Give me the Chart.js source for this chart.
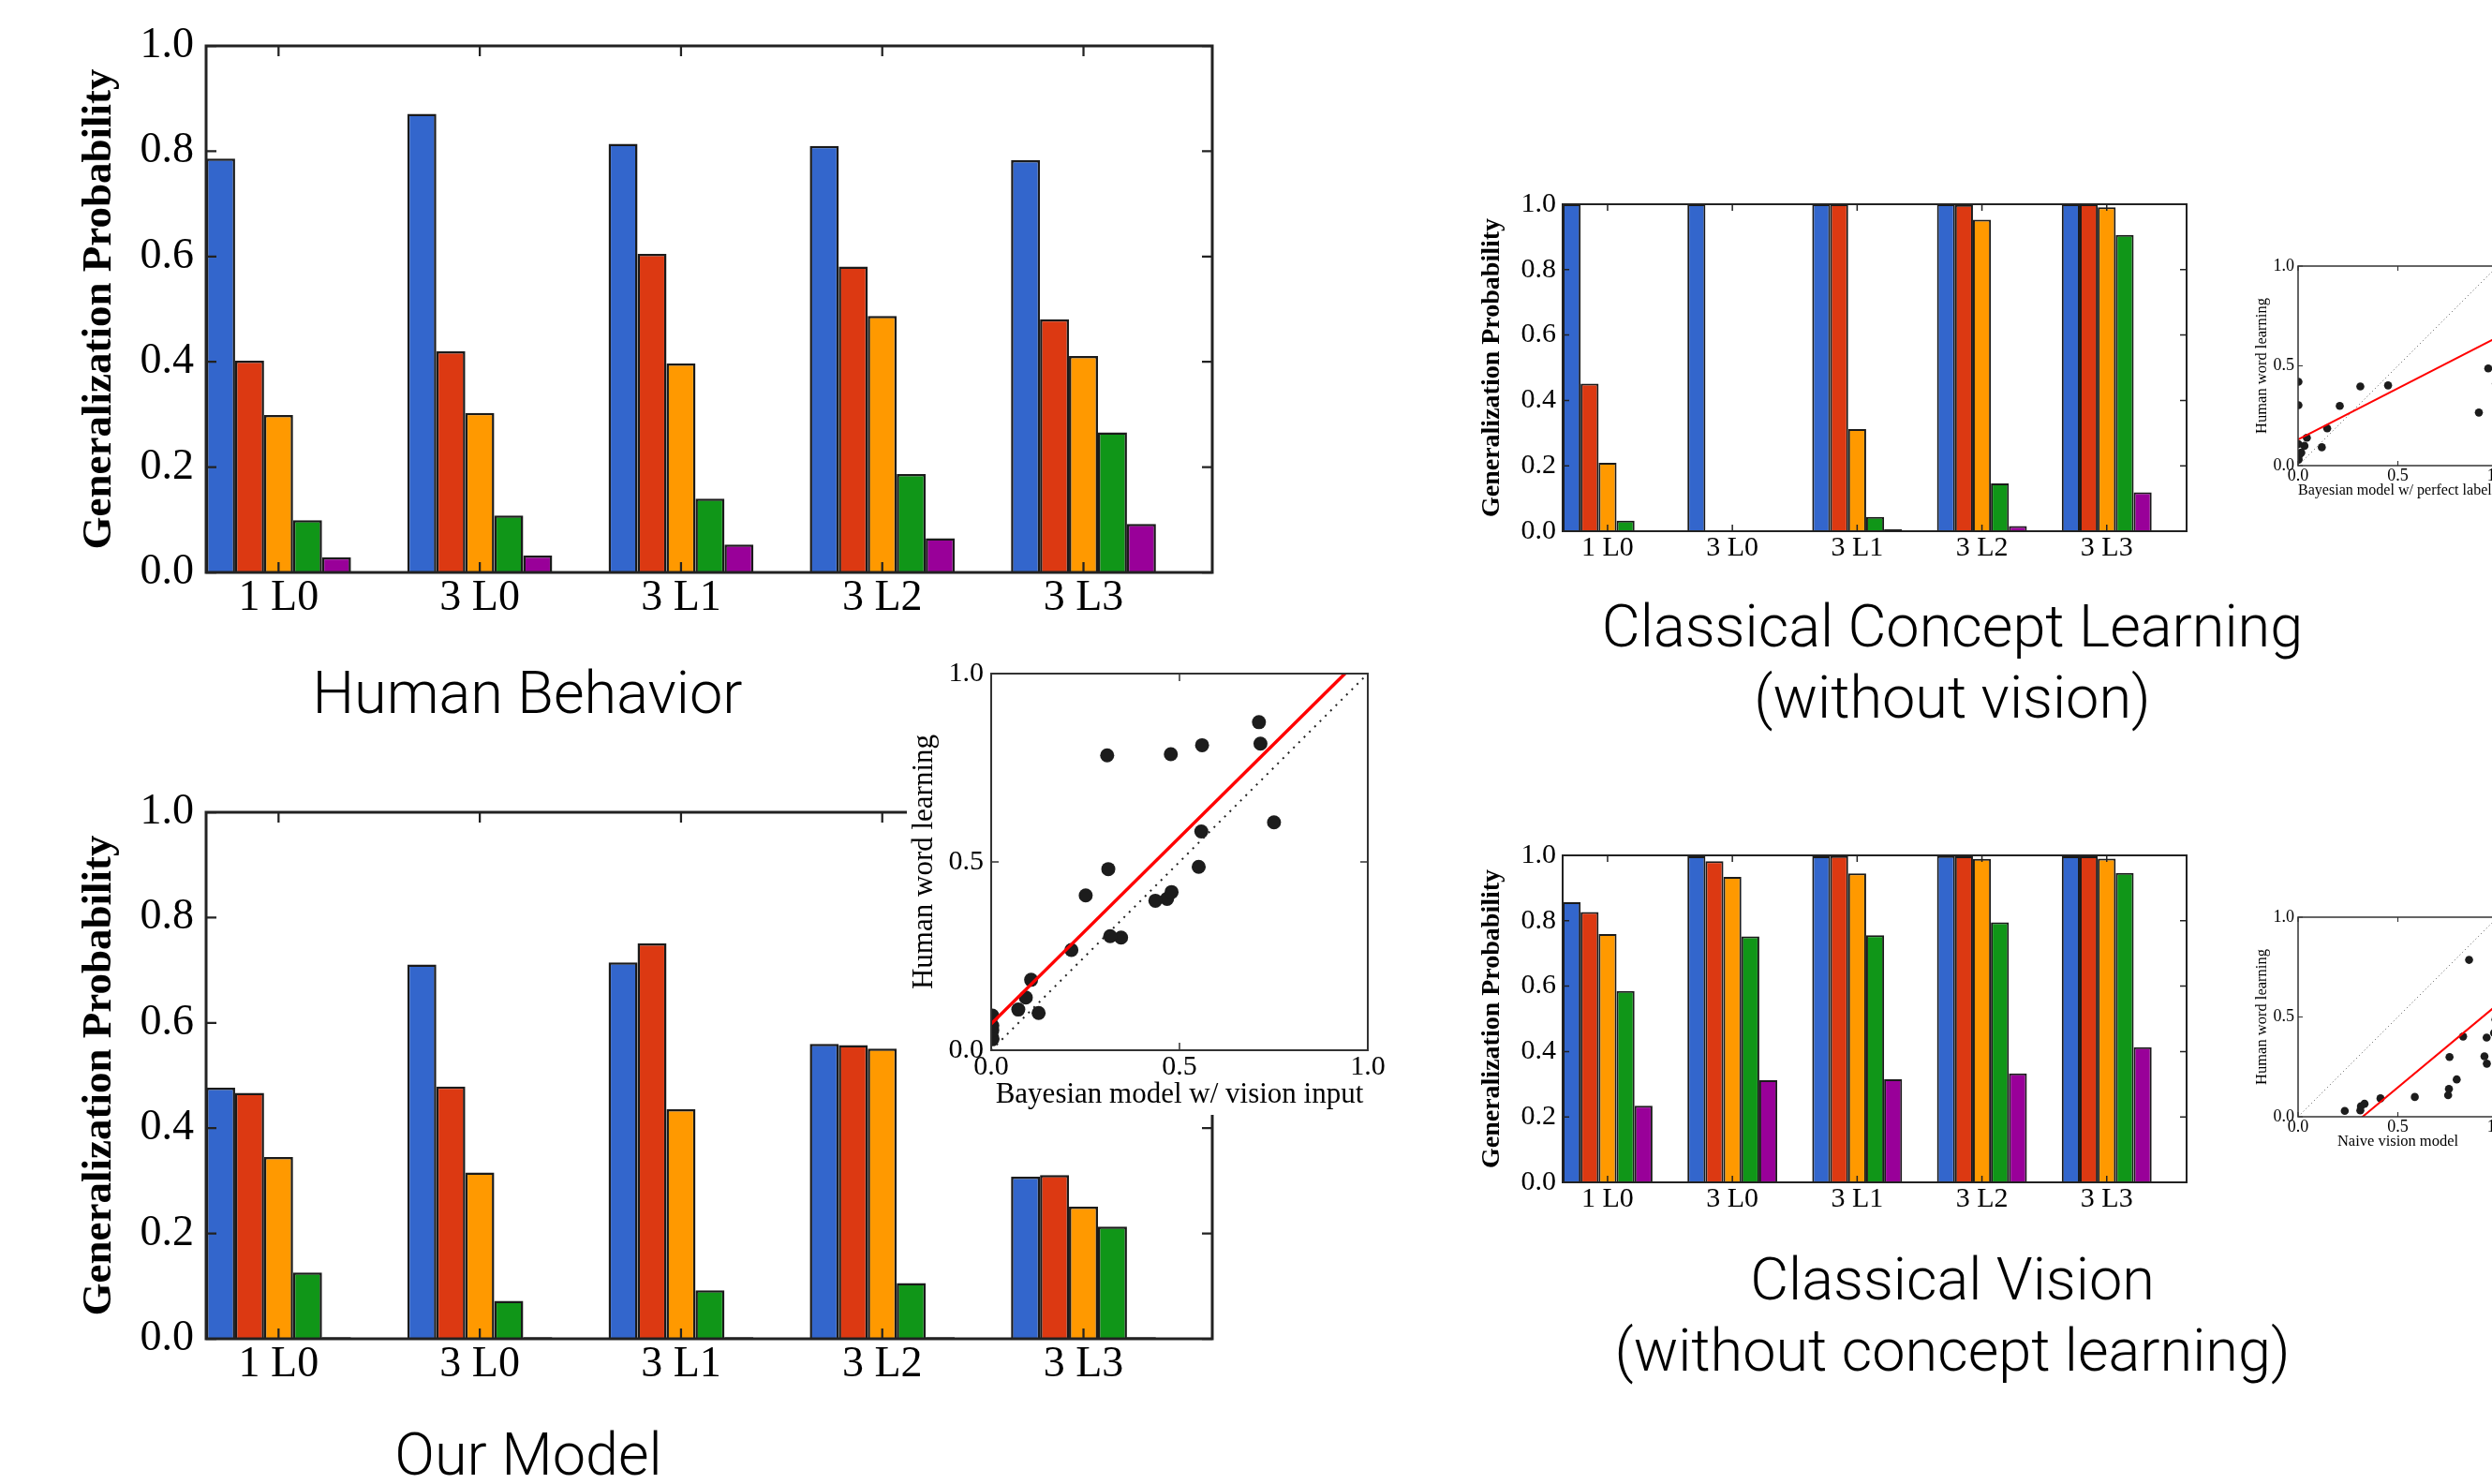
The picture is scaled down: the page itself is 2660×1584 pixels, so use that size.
<!DOCTYPE html>
<html>
<head>
<meta charset="utf-8">
<script src="https://cdn.jsdelivr.net/npm/chart.js@4.4.1/dist/chart.umd.min.js"></script>
<style>
  html, body { margin: 0; padding: 0; background: #fff; }
  #page { position: relative; width: 2660px; height: 1584px; overflow: hidden; background: #fff; }
  canvas { position: absolute; }
  .cap { position: absolute; font-family: Roboto, 'Liberation Sans', sans-serif; font-weight: 300;
         font-size: 63px; line-height: 76px; color: #000; text-align: center; white-space: nowrap;
         transform: translateX(-50%); }
</style>
</head>
<body>
<div id="page">
  <canvas id="humanBars" width="1260" height="680" style="left:60px;top:8px"></canvas>
  <canvas id="modelBars" width="1260" height="680" style="left:60px;top:826px"></canvas>
  <canvas id="conceptBars" width="800" height="420" style="left:1560px;top:190px"></canvas>
  <canvas id="visionBars" width="800" height="420" style="left:1560px;top:885px"></canvas>
  <canvas id="modelScatter" width="532" height="500" style="left:968px;top:690px;background:#fff"></canvas>
  <canvas id="conceptScatter" width="300" height="290" style="left:2390px;top:260px"></canvas>
  <canvas id="visionScatter" width="300" height="290" style="left:2390px;top:955px"></canvas>

  <div class="cap" style="left:563px;top:702px">Human Behavior</div>
  <div class="cap" style="left:564px;top:1515px">Our Model</div>
  <div class="cap" style="left:2084px;top:631px">Classical Concept Learning<br>(without vision)</div>
  <div class="cap" style="left:2084px;top:1328px">Classical Vision<br>(without concept learning)</div>
</div>
<script>
// categories (x tick labels) and one colour per bar in a group
const groups = ['1 L0', '3 L0', '3 L1', '3 L2', '3 L3'];
const seriesColors = ['#3366cc', '#dc3912', '#ff9900', '#109618', '#990099'];

// generalization probability, one row per group, one value per colour
const humanBehavior = [
  [0.786, 0.402, 0.299, 0.099, 0.029],
  [0.871, 0.420, 0.303, 0.108, 0.032],
  [0.814, 0.605, 0.397, 0.140, 0.053],
  [0.810, 0.581, 0.487, 0.187, 0.065],
  [0.783, 0.481, 0.411, 0.266, 0.092]
];
const ourModel = [
  [0.477, 0.467, 0.345, 0.126, 0.003],
  [0.711, 0.479, 0.316, 0.072, 0.003],
  [0.715, 0.751, 0.436, 0.092, 0.003],
  [0.560, 0.558, 0.551, 0.106, 0.003],
  [0.308, 0.311, 0.251, 0.213, 0.003]
];
const conceptModel = [
  [1.000, 0.451, 0.209, 0.032, 0.002],
  [1.000, 0.002, 0.002, 0.002, 0.002],
  [1.000, 1.000, 0.312, 0.044, 0.006],
  [1.000, 0.998, 0.953, 0.146, 0.016],
  [1.000, 1.000, 0.991, 0.906, 0.119]
];
const visionModel = [
  [0.857, 0.827, 0.759, 0.585, 0.234],
  [0.997, 0.982, 0.934, 0.752, 0.312],
  [0.997, 0.998, 0.945, 0.756, 0.315],
  [0.998, 0.997, 0.989, 0.795, 0.333],
  [0.997, 0.997, 0.990, 0.946, 0.413]
];

// red regression lines: [intercept, slope]
const modelFit = [0.07, 0.99];
const conceptFit = [0.131, 0.513];
const visionFit = [-0.269, 0.832];

const yTicks = [0, 0.2, 0.4, 0.6, 0.8, 1.0];
const serif = "'Liberation Serif', 'DejaVu Serif', serif";
const tickPos = 0.36;   // group centre within each unit of the x axis

// box round the plot with inward ticks on all four sides
const frame = {
  id: 'frame',
  afterDatasetsDraw(chart, args, o) {
    const { ctx, chartArea: a, scales: { x, y } } = chart;
    ctx.save();
    ctx.strokeStyle = o.color || '#222';
    ctx.lineWidth = o.width * 0.75;
    ctx.beginPath();
    x.ticks.forEach(t => {
      const p = x.getPixelForValue(t.value);
      ctx.moveTo(p, a.bottom); ctx.lineTo(p, a.bottom - o.tick);
      ctx.moveTo(p, a.top); ctx.lineTo(p, a.top + o.tick);
    });
    y.ticks.forEach(t => {
      const p = y.getPixelForValue(t.value);
      ctx.moveTo(a.left, p); ctx.lineTo(a.left + o.tick, p);
      ctx.moveTo(a.right, p); ctx.lineTo(a.right - o.tick, p);
    });
    ctx.stroke();
    ctx.lineWidth = o.width;
    ctx.strokeRect(a.left, a.top, a.right - a.left, a.bottom - a.top);
    ctx.restore();
  }
};

function barChart(id, values, c) {
  const el = document.getElementById(id);
  return new Chart(el, {
    type: 'bar',
    data: {
      datasets: seriesColors.map((col, k) => ({
        data: values.map((row, i) => ({ x: i + tickPos, y: row[k] })),
        backgroundColor: col,
        borderColor: '#1a1a1a',
        borderWidth: c.edge,
        categoryPercentage: 0.72,
        barPercentage: 1
      }))
    },
    options: {
      responsive: false, animation: false, devicePixelRatio: 1,
      layout: { padding: { left: 0, top: c.top, right: el.width - c.right, bottom: 0 } },
      plugins: { legend: { display: false }, tooltip: { enabled: false },
                 frame: { width: c.frame, tick: c.tick } },
      scales: {
        x: {
          type: 'linear', min: 0, max: 5, offset: false,
          grid: { display: false, drawTicks: false }, border: { display: false },
          afterBuildTicks: s => { s.ticks = groups.map((g, i) => ({ value: i + tickPos })); },
          afterFit: s => { s.height = el.height - c.bottom; },
          ticks: { callback: (v, i) => groups[i], color: '#000', padding: 0,
                   maxRotation: 0, autoSkip: false, font: { family: serif, size: c.font } }
        },
        y: {
          min: 0, max: 1,
          grid: { display: false, drawTicks: false }, border: { display: false },
          afterBuildTicks: s => { s.ticks = yTicks.map(v => ({ value: v })); },
          afterFit: s => { s.width = c.left; },
          ticks: { callback: v => v.toFixed(1), color: '#000', padding: c.ypad,
                   font: { family: serif, size: c.font } },
          title: { display: true, text: 'Generalization Probability', color: '#000',
                   padding: { top: c.titlePad, bottom: 0 },
                   font: { family: serif, size: c.titleSize, weight: 'bold' } }
        }
      }
    },
    plugins: [frame]
  });
}

function scatterChart(id, xs, ys, fit, xTitle, c) {
  const el = document.getElementById(id);
  const pts = [];
  xs.forEach((row, i) => row.forEach((v, k) => pts.push({ x: v, y: ys[i][k] })));
  const line = [0, 1].map(x => ({ x, y: fit[0] + fit[1] * x }));
  return new Chart(el, {
    type: 'scatter',
    data: {
      datasets: [
        { type: 'line', data: line, borderColor: '#ff0000', borderWidth: c.red,
          pointRadius: 0, fill: false },
        { type: 'line', data: [{ x: 0, y: 0 }, { x: 1, y: 1 }], borderColor: c.dotColor,
          borderWidth: c.dotW, borderDash: c.dash, pointRadius: 0, fill: false },
        { data: pts, pointRadius: c.r, pointBackgroundColor: '#1c1c1c', pointBorderWidth: 0 }
      ]
    },
    options: {
      responsive: false, animation: false, devicePixelRatio: 1,
      layout: { padding: { left: 0, top: c.top, right: el.width - c.right, bottom: 0 } },
      plugins: { legend: { display: false }, tooltip: { enabled: false },
                 frame: { width: c.frame, tick: c.tick, color: '#333' } },
      scales: {
        x: {
          type: 'linear', min: 0, max: 1,
          grid: { display: false, drawTicks: false }, border: { display: false },
          afterFit: s => { s.height = el.height - c.bottom; },
          ticks: { stepSize: 0.5, callback: v => v.toFixed(1), color: '#000', padding: 0,
                   maxRotation: 0, font: { family: serif, size: c.font } },
          title: { display: true, text: xTitle, color: '#000', padding: { top: 0, bottom: c.xTitlePad },
                   font: { family: serif, size: c.titleSize } }
        },
        y: {
          min: 0, max: 1,
          grid: { display: false, drawTicks: false }, border: { display: false },
          afterFit: s => { s.width = c.left; },
          ticks: { stepSize: 0.5, callback: v => v.toFixed(1), color: '#000', padding: c.ypad,
                   font: { family: serif, size: c.font } },
          title: { display: true, text: 'Human word learning', color: '#000',
                   padding: { top: c.yTitlePad, bottom: 0 },
                   font: { family: serif, size: c.titleSize } }
        }
      }
    },
    plugins: [frame]
  });
}

const bigBars = { left: 160, top: 41, right: 1234, bottom: 603, font: 46, ypad: 13,
                  titleSize: 45, titlePad: 19, edge: 2.5, frame: 3, tick: 11 };
const smallBars = { left: 108, top: 28, right: 774, bottom: 377, font: 30, ypad: 7,
                    titleSize: 28, titlePad: 16, edge: 2, frame: 2, tick: 7 };

barChart('humanBars', humanBehavior, bigBars);
barChart('modelBars', ourModel, bigBars);
barChart('conceptBars', conceptModel, smallBars);
barChart('visionBars', visionModel, smallBars);

scatterChart('modelScatter', ourModel, humanBehavior, modelFit, 'Bayesian model w/ vision input',
  { left: 90, top: 29, right: 492, bottom: 431, font: 30, ypad: 8, titleSize: 31,
    xTitlePad: 3, yTitlePad: 0, r: 7.5, red: 3.5, dotW: 2, dash: [2, 6], dotColor: '#222',
    frame: 2, tick: 8 });
const inset = { left: 63, top: 24, right: 276, bottom: 237, font: 18, ypad: 4, titleSize: 16.5,
                xTitlePad: 16, yTitlePad: 15, r: 4.3, red: 2, dotW: 1, dash: [1, 3],
                dotColor: '#555', frame: 1.5, tick: 5 };
scatterChart('conceptScatter', conceptModel, humanBehavior, conceptFit,
  'Bayesian model w/ perfect labels', inset);
scatterChart('visionScatter', visionModel, humanBehavior, visionFit, 'Naive vision model', inset);
</script>
</body>
</html>
